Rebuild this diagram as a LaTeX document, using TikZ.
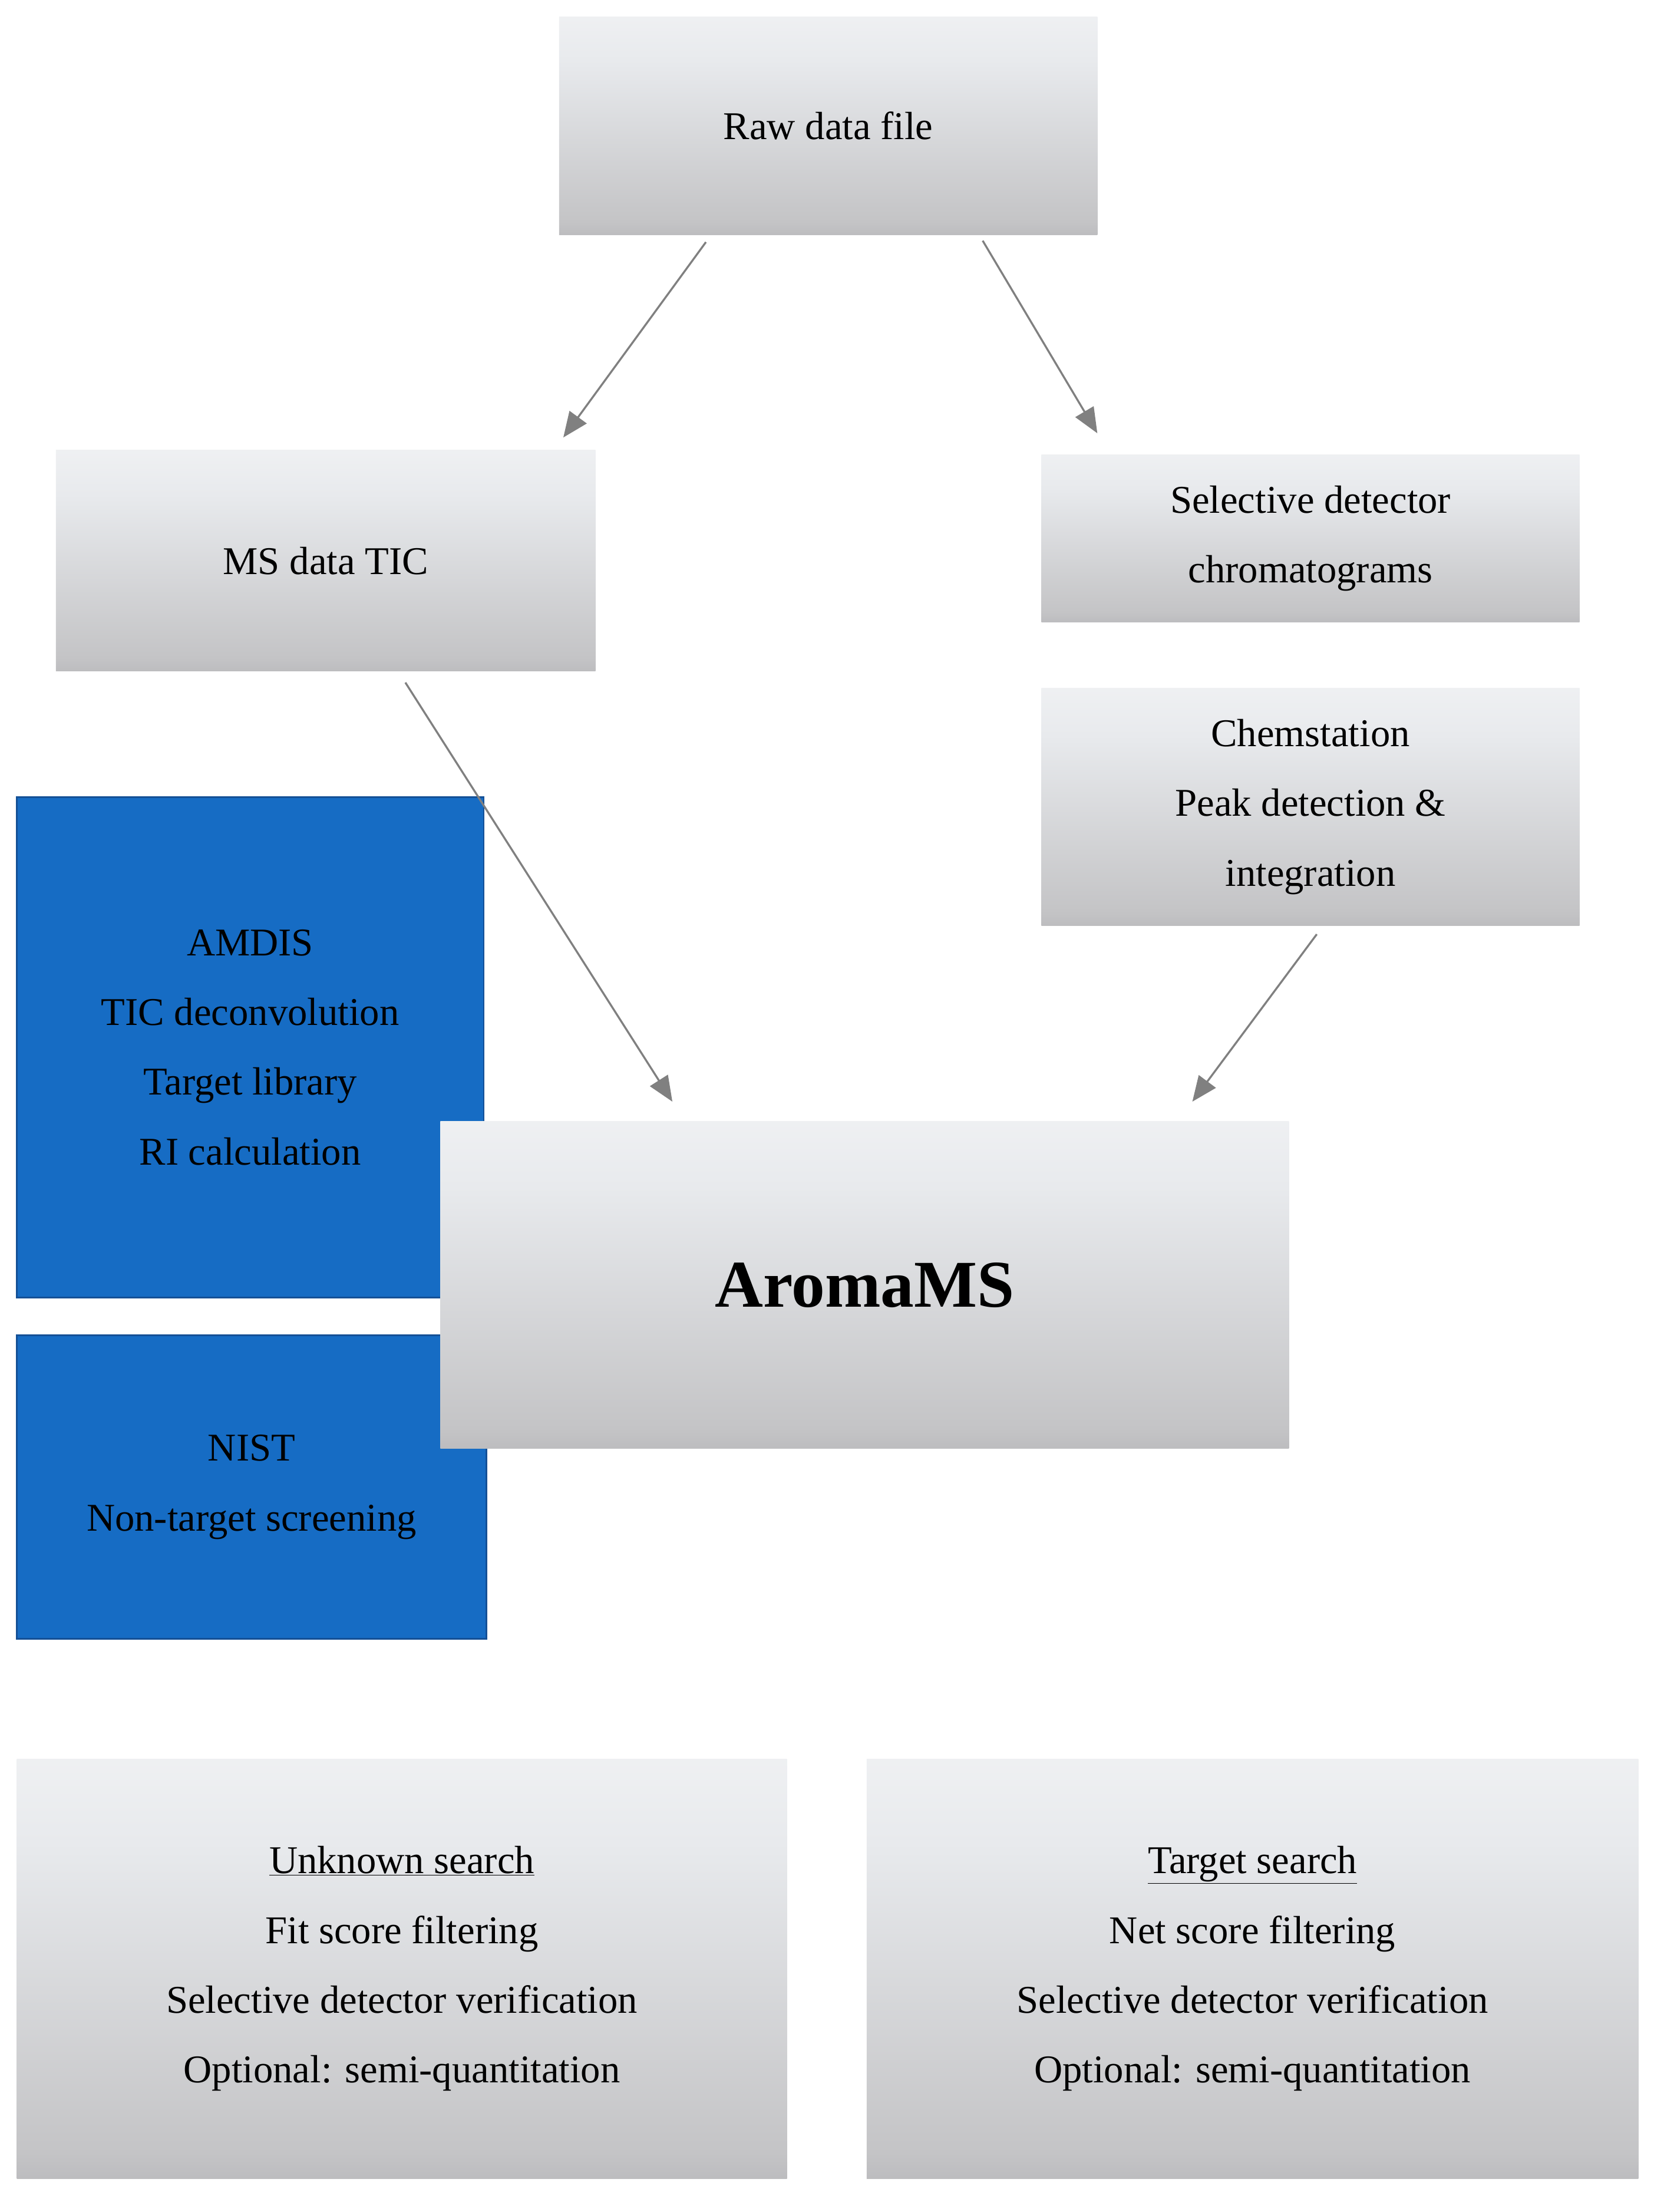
\documentclass[tikz,border=0pt]{standalone}
\usepackage{fontspec}
\setmainfont{Liberation Serif}
\usetikzlibrary{arrows.meta}
\definecolor{stripblue}{RGB}{190,205,230}
\definecolor{darkband}{RGB}{158,158,162}
\definecolor{midgrey}{RGB}{196,196,198}
\definecolor{lightgrey}{RGB}{232,234,237}
\definecolor{panelblue}{RGB}{22,108,196}
\definecolor{paneledge}{RGB}{20,80,150}
\pgfdeclareverticalshading{greybox}{100bp}{color(0bp)=(stripblue); color(7bp)=(stripblue); color(13bp)=(darkband); color(28bp)=(midgrey); color(65bp)=(lightgrey); color(100bp)=(white)}

\begin{document}
\begin{tikzpicture}[x=0.05cm, y=0.05cm,
   box/.style = {rectangle, shading=greybox, align=center, inner sep=0pt,
      font=\fontsize{40}{71}\selectfont},
   panel/.style = {rectangle, fill=panelblue, draw=paneledge, line width=1.5pt,
      align=center, inner sep=0pt, font=\fontsize{40}{71}\selectfont},
   flow/.style = {draw=gray, line width=2pt, -{Triangle[length=0.9cm, width=0.75cm]}}]
   \useasboundingbox (0,0) rectangle (1190,-1582);
   \fill[white] (0,0) rectangle (1190,-1582);

   \node[box, minimum width=19.25cm, minimum height=7.8cm] (raw) at (592.5,-90) {Raw data file};
   \node[box, minimum width=19.3cm, minimum height=7.9cm] (ms) at (233,-401) {MS data TIC};
   \node[box, minimum width=19.25cm, minimum height=6cm] (sel) at (937.5,-385) {Selective detector\\chromatograms};
   \node[box, minimum width=19.25cm, minimum height=8.5cm] (chem) at (937.5,-577) {Chemstation\\Peak detection \&\\integration};

   \node[panel, minimum width=16.7cm, minimum height=17.9cm] (amdis) at (179,-749) {AMDIS\\TIC deconvolution\\Target library\\RI calculation};
   \node[panel, minimum width=16.8cm, minimum height=10.85cm] (nist) at (180,-1063.5) {NIST\\Non-target screening};
   \node[box, minimum width=30.35cm, minimum height=11.7cm,
      font=\fontsize{68}{80}\selectfont\bfseries] (aroma) at (618.5,-919) {AromaMS};

   \node[box, minimum width=27.55cm, minimum height=15cm] (unknown) at (287.5,-1408) {\underline{Unknown search}\\Fit score filtering\\Selective detector verification\\Optional: semi-quantitation};
   \node[box, minimum width=27.6cm, minimum height=15cm] (target) at (896,-1408) {\underline{Target search}\\Net score filtering\\Selective detector verification\\Optional: semi-quantitation};

   % arrows
   \draw[flow] ([xshift=-4.375cm, yshift=-0.25cm]raw.south) -- ([xshift=8.5cm, yshift=0.45cm]ms.north);
   \draw[flow] ([xshift=5.525cm, yshift=-0.2cm]raw.south) -- ([xshift=-7.625cm, yshift=0.75cm]sel.north);
   \draw[flow] ([xshift=2.85cm, yshift=-0.4cm]ms.south) -- ([xshift=-6.875cm, yshift=0.7cm]aroma.north);
   \draw[flow] ([xshift=0.225cm, yshift=-0.3cm]chem.south) -- ([xshift=11.725cm, yshift=0.7cm]aroma.north);
\end{tikzpicture}
\end{document}
